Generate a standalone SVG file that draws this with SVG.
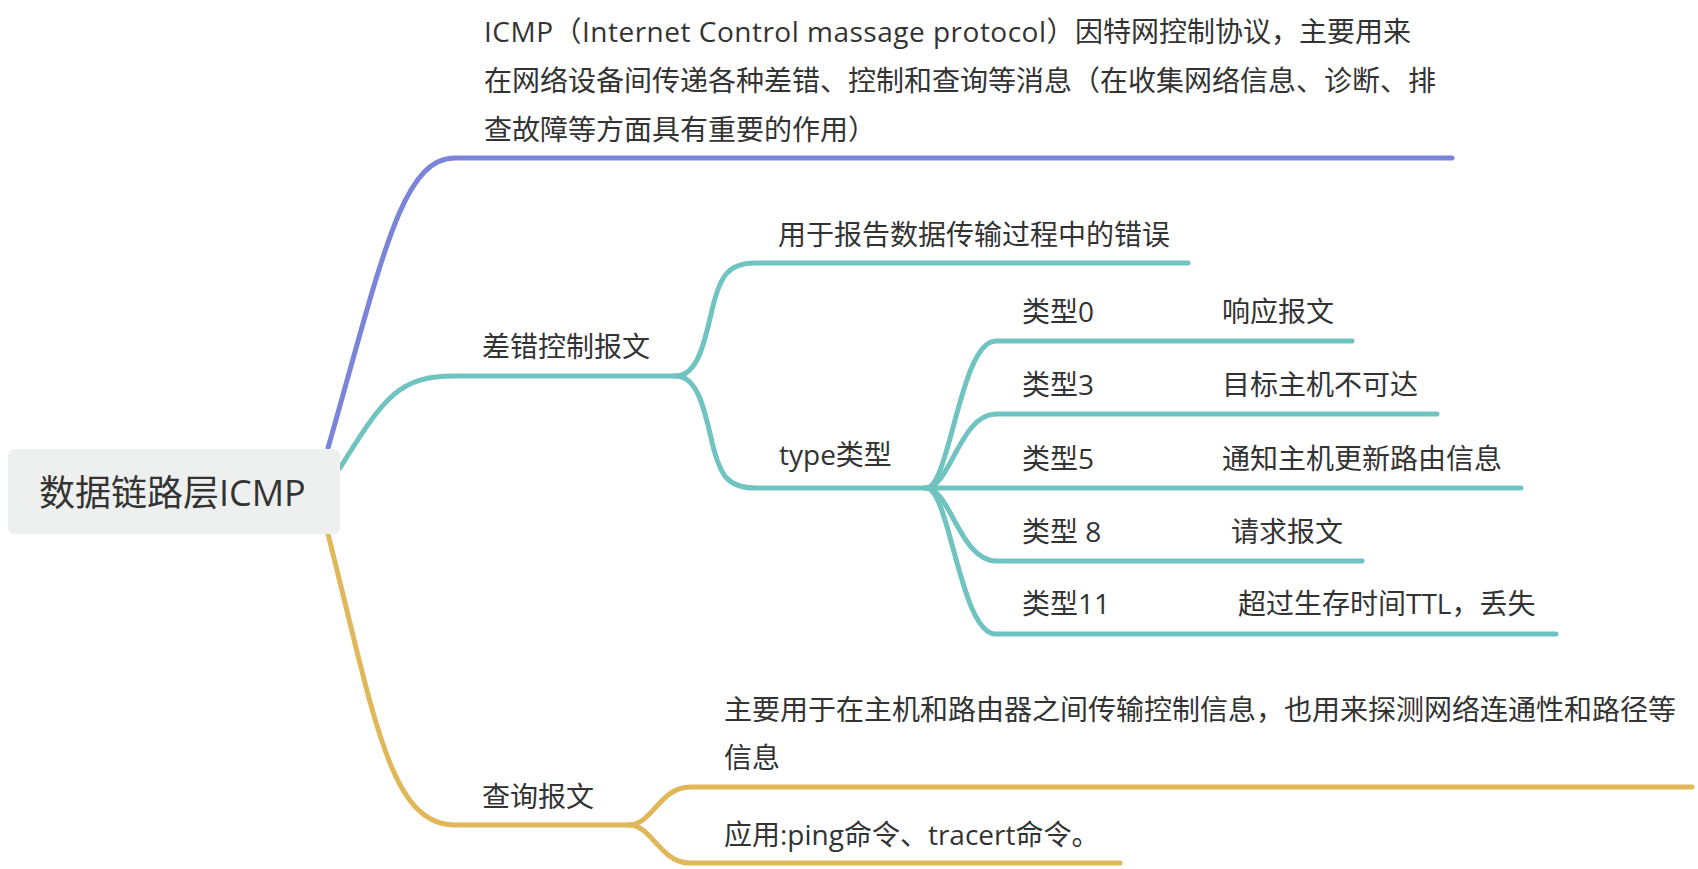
<svg xmlns="http://www.w3.org/2000/svg" width="1698" height="869" viewBox="0 0 1698 869">
<style>
.t{font-family:"Open Sans","Noto Sans CJK SC",sans-serif;font-size:28px;fill:#333333}
.root{font-family:"Open Sans","Noto Sans CJK SC",sans-serif;font-size:36px;fill:#333333}
.c{fill:none;stroke-linecap:round;stroke-linejoin:round;stroke-width:5}
.b{stroke:#7a84d8}
.g{stroke:#6fc3c0}
.y{stroke:#e0b85a}
</style>
<rect width="1698" height="869" fill="#ffffff"/>
<g id="connectors">
<path class="c b" d="M328 448 C383 255 402 158 455 158 L1452 158"/>
<path class="c g" d="M340 468 C385 395 400 376 455 376 L676 376"/>
<path class="c g" d="M676 376 C698 376 705 340 712 310 C720 276 728 263 755 263 L1188 263"/>
<path class="c g" d="M676 376 C698 376 705 412 712 442 C720 476 728 488 755 488 L926 488"/>
<path class="c g" d="M926 488 C950 488 960 341 996 341 L1352 341"/>
<path class="c g" d="M926 488 C950 488 960 414 996 414 L1437 414"/>
<path class="c g" d="M926 488 L1521 488"/>
<path class="c g" d="M926 488 C950 488 960 561 996 561 L1362 561"/>
<path class="c g" d="M926 488 C950 488 960 634 996 634 L1556 634"/>
<path class="c y" d="M328 534 C375 720 390 825 455 825 L629 825"/>
<path class="c y" d="M629 825 C652 825 660 787 690 787 L1692 787"/>
<path class="c y" d="M629 825 C652 825 660 863 690 863 L1120 863"/>
</g>
<g id="root">
<rect x="8" y="449" width="332" height="85" rx="6" fill="#eef0ef"/>
<text class="root" x="39" y="506">数据链路层ICMP</text>
</g>
<g id="icmp-desc">
<text class="t" x="484" y="42"><tspan letter-spacing="0.5">ICMP（Internet Control massage protocol）</tspan>因特网控制协议，主要用来</text>
<text class="t" x="484" y="91">在网络设备间传递各种差错、控制和查询等消息（在收集网络信息、诊断、排</text>
<text class="t" x="484" y="140">查故障等方面具有重要的作用）</text>
</g>
<g id="error-msg">
<text class="t" x="482" y="357">差错控制报文</text>
</g>
<g id="error-desc">
<text class="t" x="778" y="245">用于报告数据传输过程中的错误</text>
</g>
<g id="type">
<text class="t" x="779" y="465">type类型</text>
</g>
<g id="type0">
<text class="t" x="1022" y="322">类型0</text>
<text class="t" x="1222" y="322">响应报文</text>
</g>
<g id="type3">
<text class="t" x="1022" y="395">类型3</text>
<text class="t" x="1222" y="395">目标主机不可达</text>
</g>
<g id="type5">
<text class="t" x="1022" y="469">类型5</text>
<text class="t" x="1222" y="469">通知主机更新路由信息</text>
</g>
<g id="type8">
<text class="t" x="1022" y="542">类型 8</text>
<text class="t" x="1231" y="542">请求报文</text>
</g>
<g id="type11">
<text class="t" x="1022" y="614">类型11</text>
<text class="t" x="1238" y="614">超过生存时间TTL，丢失</text>
</g>
<g id="query-msg">
<text class="t" x="482" y="807">查询报文</text>
</g>
<g id="query-desc">
<text class="t" x="724" y="720">主要用于在主机和路由器之间传输控制信息，也用来探测网络连通性和路径等</text>
<text class="t" x="724" y="768">信息</text>
</g>
<g id="query-app">
<text class="t" x="724" y="845">应用:ping命令、tracert命令。</text>
</g>
</svg>
